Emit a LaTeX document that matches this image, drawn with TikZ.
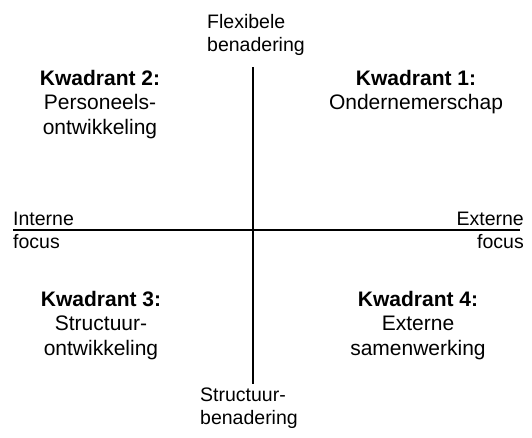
\documentclass[tikz,border=0pt]{standalone}
\usepackage{fontspec}
\setmainfont{Liberation Sans}
\begin{document}
\begin{tikzpicture}[x=1pt,y=-1pt,
  axislabel/.style={inner sep=0pt,font=\fontsize{19.5}{23}\selectfont},
  qtitle/.style={inner sep=0pt,anchor=base,font=\fontsize{21}{24}\selectfont\bfseries},
  qtext/.style={inner sep=0pt,anchor=base,font=\fontsize{21}{24}\selectfont},
  axisline/.style={line width=1.6pt,draw=black}]
\useasboundingbox (0,0) rectangle (532,437);
% axes
\coordinate (left) at (13,230);
\coordinate (right) at (520,230);
\coordinate (top) at (253,67);
\coordinate (bottom) at (253,384);
\draw[axisline] (left) -- (right);
\draw[axisline] (top) -- (bottom);
% axis labels
\node[axislabel,anchor=base west] (flex1) at (207,28) {Flexibele};
\node[axislabel,anchor=base west] (flex2) at (207,51) {benadering};
\node[axislabel,anchor=base west] (struc1) at (200,401) {Structuur-};
\node[axislabel,anchor=base west] (struc2) at (200,424) {benadering};
\node[axislabel,anchor=base west] (int1) at (13,225) {Interne};
\node[axislabel,anchor=base west] (int2) at (13,248) {focus};
\node[axislabel,anchor=base east] (ext1) at (524,225) {Externe};
\node[axislabel,anchor=base east] (ext2) at (524,248) {focus};
% quadrant 1
\node[qtitle] (q1a) at (416,85) {Kwadrant 1:};
\node[qtext] (q1b) at (416,109.5) {Ondernemerschap};
% quadrant 2
\node[qtitle] (q2a) at (100,85) {Kwadrant 2:};
\node[qtext] (q2b) at (100,109.5) {Personeels-};
\node[qtext] (q2c) at (100,134) {ontwikkeling};
% quadrant 3
\node[qtitle] (q3a) at (101,306) {Kwadrant 3:};
\node[qtext] (q3b) at (101,330.5) {Structuur-};
\node[qtext] (q3c) at (101,355) {ontwikkeling};
% quadrant 4
\node[qtitle] (q4a) at (418,306) {Kwadrant 4:};
\node[qtext] (q4b) at (418,330.5) {Externe};
\node[qtext] (q4c) at (418,355) {samenwerking};
\end{tikzpicture}
\end{document}
